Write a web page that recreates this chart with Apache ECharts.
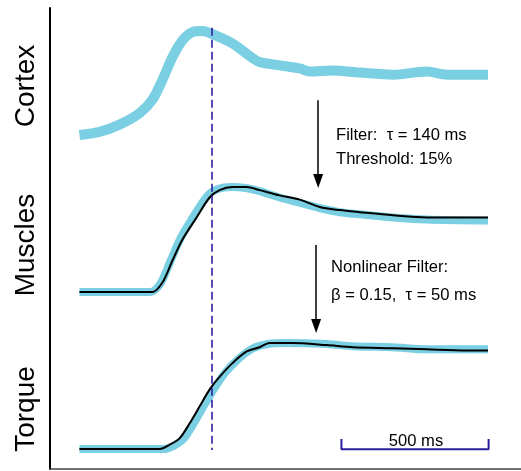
<!DOCTYPE html>
<html>
<head>
<meta charset="utf-8">
<script src="https://cdn.jsdelivr.net/npm/echarts@6/dist/echarts.min.js"></script>
<style>
  html, body { margin: 0; padding: 0; background: #fff; }
  #chart { width: 521px; height: 471px; }
</style>
</head>
<body>
<div id="chart"></div>
<script>
// time in ms, values normalised 0..1 inside each panel
const cortexData = [
  [0, 0], [68, 0.03], [136, 0.10], [204, 0.21], [248, 0.34], [282, 0.53],
  [316, 0.75], [350, 0.91], [384, 0.99], [418, 1.0], [452, 0.97], [520, 0.88],
  [588, 0.74], [612, 0.70], [680, 0.67], [748, 0.64], [782, 0.61], [860, 0.62],
  [952, 0.60], [1065, 0.58], [1180, 0.61], [1248, 0.58], [1388, 0.58]
];
const muscleEmg = [
  [0, 0], [240, 0], [275, 0.08], [310, 0.30], [345, 0.52], [392, 0.74],
  [436, 0.92], [470, 0.98], [515, 1.0], [565, 0.99], [612, 0.96], [680, 0.90],
  [748, 0.85], [816, 0.80], [884, 0.76], [952, 0.74], [1065, 0.71], [1180, 0.69],
  [1388, 0.68]
];
const muscleModel = [
  [0, 0], [248, 0], [282, 0.09], [316, 0.30], [350, 0.50], [398, 0.71],
  [442, 0.90], [476, 0.97], [520, 1.0], [568, 1.0], [612, 0.97], [680, 0.92],
  [748, 0.88], [816, 0.81], [884, 0.78], [952, 0.76], [1065, 0.73], [1180, 0.71],
  [1388, 0.71]
];
const torqueMeasured = [
  [0, 0], [285, 0], [320, 0.03], [355, 0.10], [390, 0.25], [425, 0.42],
  [460, 0.58], [495, 0.72], [540, 0.85], [590, 0.95], [640, 0.99], [700, 1.0],
  [840, 0.99], [930, 0.97], [1065, 0.96], [1180, 0.94], [1388, 0.94]
];
const torqueModel = [
  [0, 0], [272, 0], [306, 0.04], [340, 0.10], [374, 0.24], [408, 0.40],
  [442, 0.56], [476, 0.68], [520, 0.81], [568, 0.92], [612, 0.96], [646, 1.0],
  [724, 1.0], [840, 0.98], [929, 0.96], [1065, 0.95], [1180, 0.94], [1316, 0.93],
  [1388, 0.93]
];
// scale bar (ms) and markers in the outer frame (y in 0..100 frame units)
const scaleBar = [[890, 6.5], [890, 4.3], [1390, 4.3], [1390, 6.5]];
const markerTime = 450;
const arrows = [
  { t: 811, from: 80, to: 62.5 },
  { t: 804, from: 48.6, to: 31 }
];
const panelLabels = ['Cortex', 'Muscles', 'Torque'];

const cyan = '#7acfe2';
const navy = '#2b1fa0';

const chart = echarts.init(document.getElementById('chart'));

const xBase = { type: 'value', min: -100, max: 1500, show: false };
const yHidden = { type: 'value', min: 0, max: 1, show: false };

const labelFont = '28px "Liberation Sans", Arial, sans-serif';
const noteFont = '16.6px "Liberation Sans", Arial, sans-serif';

function sideLabel(text, y) {
  return {
    type: 'text', x: 26, y: y, rotation: Math.PI / 2,
    style: { text: text, font: labelFont, fill: '#000', align: 'center', verticalAlign: 'middle' }
  };
}
function note(text, x, y) {
  return {
    type: 'text', x: x, y: y,
    style: { text: text, font: noteFont, fill: '#000', align: 'left', verticalAlign: 'middle' }
  };
}
function trace(grid, data, color, width) {
  return {
    type: 'line', xAxisIndex: grid, yAxisIndex: grid, data: data, symbol: 'none',
    smooth: 0.3, clip: false,
    lineStyle: { color: color, width: width, cap: 'butt', join: 'round' }
  };
}

chart.setOption({
  animation: false,
  grid: [
    { left: 50, right: 0, top: 8, bottom: 2 },
    { left: 50, right: 0, top: 31, height: 104 },
    { left: 50, right: 0, top: 187, height: 105 },
    { left: 50, right: 0, top: 343, height: 106 }
  ],
  xAxis: [
    {
      type: 'value', min: -100, max: 1500, gridIndex: 0,
      axisLine: { show: true, onZero: false, lineStyle: { color: '#444', width: 1.5 } },
      axisTick: { show: false }, axisLabel: { show: false }, splitLine: { show: false }
    },
    Object.assign({ gridIndex: 1 }, xBase),
    Object.assign({ gridIndex: 2 }, xBase),
    Object.assign({ gridIndex: 3 }, xBase)
  ],
  yAxis: [
    {
      type: 'value', min: 0, max: 100, gridIndex: 0,
      axisLine: { show: true, onZero: false, lineStyle: { color: '#000', width: 2 } },
      axisTick: { show: false }, axisLabel: { show: false }, splitLine: { show: false }
    },
    Object.assign({ gridIndex: 1 }, yHidden),
    Object.assign({ gridIndex: 2 }, yHidden),
    Object.assign({ gridIndex: 3 }, yHidden)
  ],
  series: [
    {
      type: 'line', xAxisIndex: 0, yAxisIndex: 0, data: scaleBar,
      symbol: 'none', clip: false, lineStyle: { color: navy, width: 2 },
      markLine: {
        silent: true, symbol: ['none', 'none'], label: { show: false },
        lineStyle: { color: navy, width: 1.6, type: [8, 4] },
        data: [[{ coord: [markerTime, 95.7] }, { coord: [markerTime, 4.1] }]]
      }
    },
    {
      type: 'line', xAxisIndex: 0, yAxisIndex: 0, data: [],
      markLine: {
        silent: true, symbol: ['none', 'triangle'], symbolSize: [10, 14],
        label: { show: false }, lineStyle: { color: '#000', width: 1.5, type: 'solid' },
        data: arrows.map(a => [{ coord: [a.t, a.from] }, { coord: [a.t, a.to] }])
      }
    },
    trace(1, cortexData, cyan, 10),
    trace(2, muscleEmg, cyan, 8),
    trace(2, muscleModel, '#000', 2),
    trace(3, torqueMeasured, cyan, 8),
    trace(3, torqueModel, '#000', 2)
  ],
  graphic: [
    sideLabel(panelLabels[0], 86),
    sideLabel(panelLabels[1], 245),
    sideLabel(panelLabels[2], 409),
    note('Filter:  \u03c4 = 140 ms', 336, 135),
    note('Threshold: 15%', 336, 159),
    note('Nonlinear Filter:', 331, 267),
    note('\u03b2 = 0.15,  \u03c4 = 50 ms', 331, 295),
    {
      type: 'text', x: 416, y: 441,
      style: { text: '500 ms', font: noteFont, fill: '#000', align: 'center', verticalAlign: 'middle' }
    }
  ]
});
</script>
</body>
</html>
